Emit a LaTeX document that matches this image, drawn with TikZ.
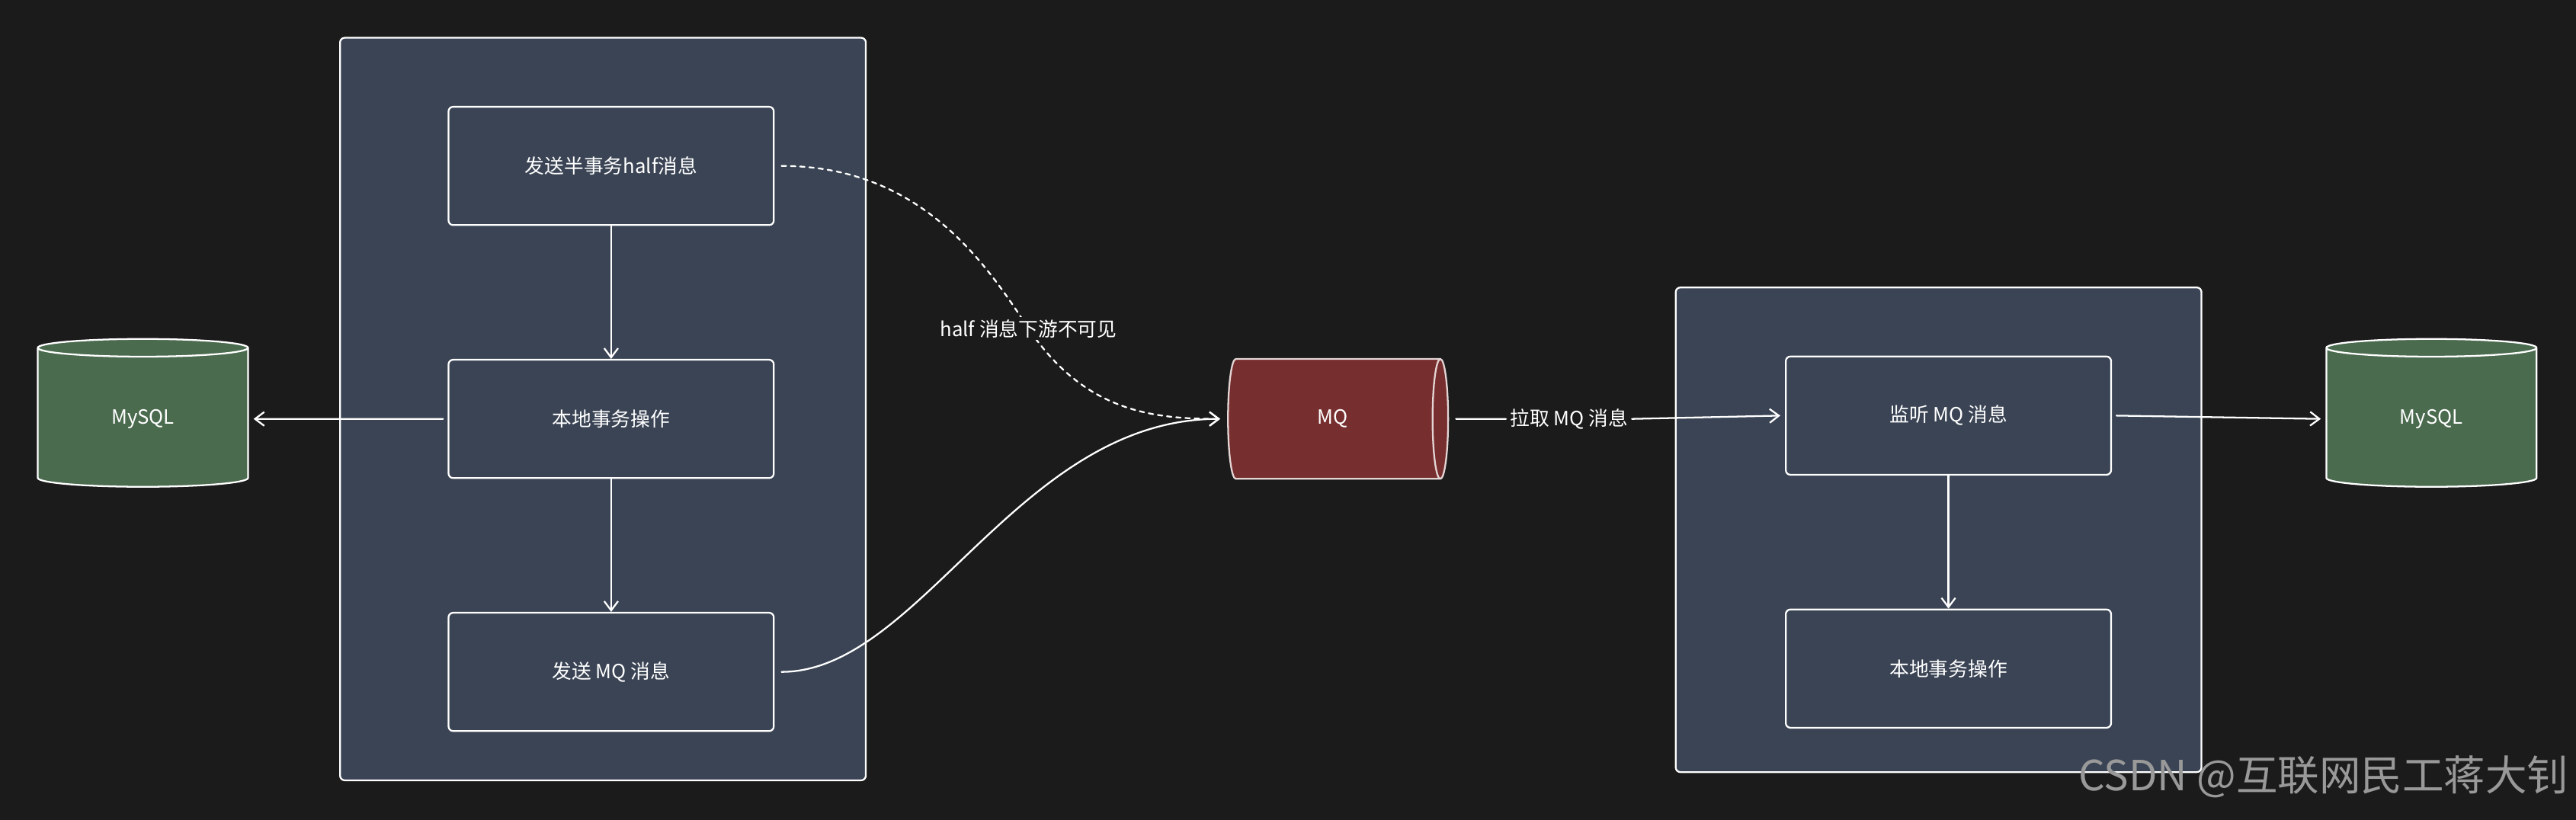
\documentclass[tikz,border=0pt]{standalone}
\usepackage{fontspec}
\setmainfont{Noto Sans CJK SC}
\usetikzlibrary{arrows.meta,shapes.geometric,positioning}
\definecolor{bgc}{HTML}{1B1B1B}
\definecolor{panelc}{HTML}{3A4454}
\definecolor{dbc}{HTML}{4B6B4F}
\definecolor{mqc}{HTML}{772E2E}
\tikzset{
  panel/.style={draw=white,line width=1.5pt,fill=panelc,rounded corners=4pt},
  stepbox/.style={draw=white,line width=1.5pt,rounded corners=4pt,minimum width=9.9cm,minimum height=3.6cm,text=white,font=\fontsize{17}{20}\selectfont},
  db/.style={cylinder,draw=white,line width=1.5pt,fill=dbc,shape border rotate=90,aspect=0.25,minimum width=6.4cm,minimum height=4.5cm,text=white,font=\fontsize{17}{20}\selectfont},
  conn/.style={draw=white,line width=1.5pt,-{Straight Barb[length=8pt,width=12pt]}},
  lbl/.style={text=white,font=\fontsize{17}{20}\selectfont}
}
\begin{document}
\begin{tikzpicture}[x=0.05cm,y=-0.05cm,line cap=round,line join=round]
\fill[bgc] (0,0) rectangle (1568,499);
\useasboundingbox (0,0) rectangle (1568,499);
% left side
\draw[panel] (207,23) rectangle (527,475);
\node[stepbox] (half) at (372,101) {发送半事务half消息};
\node[stepbox] (local) at (372,255) {本地事务操作};
\node[stepbox] (send) at (372,409) {发送 MQ 消息};
\node[db] (dbl) at (87,255) {MySQL};
\draw[conn] (half) -- (local);
\draw[conn] (local) -- (send);
\draw[conn] ([xshift=-4]local.west) -- ([xshift=4]dbl.east);
% mq
\node[cylinder,draw=white!80!mqc,line width=1.5pt,fill=mqc,aspect=0.6,minimum width=3.65cm,minimum height=6.7cm,text=white,font=\fontsize{17}{20}\selectfont] (mq) at (811,255) {MQ};
\draw[white,line width=1.5pt,dashed,dash pattern=on 4pt off 4pt,-{Straight Barb[length=8pt,width=12pt]}] ([xshift=6]half.east) .. controls (560,101) and (600,160) .. (626,200) .. controls (660,250) and (700,255) .. ([xshift=-6]mq.west);
\node[lbl,fill=bgc,inner sep=2pt] (hl) at (626,200) {half 消息下游不可见};
\draw[conn] ([xshift=6]send.east) .. controls (560,409) and (620,255) .. ([xshift=-6]mq.west);
% right side
\draw[panel] (1020,175) rectangle (1340,470);
\node[stepbox] (listen) at (1186,253) {监听 MQ 消息};
\node[stepbox] (local2) at (1186,407) {本地事务操作};
\node[db] (dbr) at (1480,255) {MySQL};
\node[lbl] (pull) at (955,255) {拉取 MQ 消息};
\draw[white,line width=1.5pt] ([xshift=6]mq.east) -- (pull.west);
\draw[conn] (pull.east) -- ([xshift=-4]listen.west);
\draw[conn] (listen) -- (local2);
\draw[conn] ([xshift=4]listen.east) -- ([xshift=-4]dbr.west);
\node[text=gray!80,font=\fontsize{36}{40}\selectfont,anchor=east] (wm) at (1566,473) {CSDN @互联网民工蒋大钊};
\end{tikzpicture}
\end{document}
